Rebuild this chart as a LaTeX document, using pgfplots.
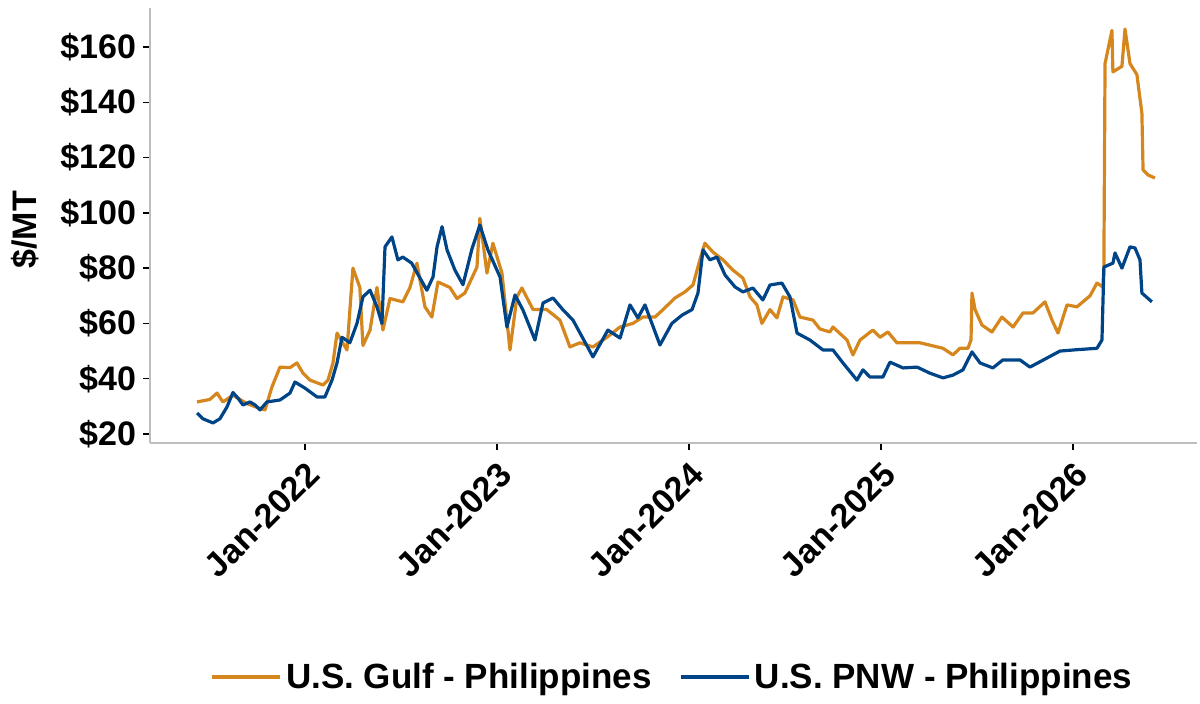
\documentclass[border=0pt]{standalone}
\usepackage{fontspec}
\setmainfont{Liberation Sans}
\usepackage{pgfplots}
\pgfplotsset{compat=1.18}

\definecolor{gulf}{RGB}{213,134,29}
\definecolor{pnw}{RGB}{0,68,136}
\definecolor{axisgray}{RGB}{190,190,190}

\begin{document}
\begin{tikzpicture}
% page frame: 1200 x 703 px at 0.5pt per px
\path (-75pt,-130pt) rectangle (525pt,221.5pt);
\begin{axis}[
  at={(0pt,0pt)}, anchor=south west,
  scale only axis,
  width=523.5pt, height=217.5pt,
  xmin=2021.193, xmax=2026.646,
  ymin=16.74, ymax=174.1,
  axis x line*=bottom, axis y line*=left,
  axis line style={axisgray, line width=0.9pt},
  tick align=outside,
  major tick length=3.5pt,
  tick style={black, line width=0.7pt},
  xtick={2022,2023,2024,2025,2026},
  xticklabels={Jan-2022,Jan-2023,Jan-2024,Jan-2025,Jan-2026},
  ytick={20,40,60,80,100,120,140,160},
  yticklabels={\$20,\$40,\$60,\$80,\$100,\$120,\$140,\$160},
  ticklabel style={font=\fontsize{17}{19}\selectfont\bfseries},
  xticklabel style={rotate=45, anchor=north east},
  ylabel={\$/MT},
  ylabel style={font=\fontsize{17}{19}\selectfont\bfseries,
    at={(axis description cs:-0.1194,0.49)}, anchor=center},
  legend columns=2,
  legend style={draw=none, fill=none,
    at={(axis description cs:0.5,-0.538)}, anchor=center,
    font=\fontsize{17.5}{19}\selectfont\bfseries,
    /tikz/every even column/.append style={column sep=12pt}},
  legend image code/.code={\draw[#1, line width=1.6pt] (0pt,0pt) -- (25pt,0pt);
    \path (25pt,0pt) -- (34pt,0pt);},
  every axis plot/.append style={line join=round},
]

\addplot[gulf, line width=1.6pt] coordinates {
(2021.438,31.6) (2021.505,32.5) (2021.542,34.8) (2021.573,31.6) (2021.625,34.0)
(2021.698,31.0) (2021.755,29.5) (2021.792,28.7) (2021.828,37.0) (2021.870,44.2)
(2021.922,44.0) (2021.958,45.7) (2021.990,42.0) (2022.026,39.5) (2022.094,37.7)
(2022.120,39.5) (2022.146,45.7) (2022.167,56.5) (2022.219,50.4) (2022.250,80.0)
(2022.286,73.0) (2022.302,52.0) (2022.339,57.6) (2022.375,73.0) (2022.406,57.6)
(2022.443,69.0) (2022.510,67.8) (2022.547,73.0) (2022.583,81.8) (2022.625,66.0)
(2022.661,62.3) (2022.693,75.0) (2022.755,73.0) (2022.792,69.0) (2022.833,71.0)
(2022.896,80.4) (2022.911,98.0) (2022.948,78.2) (2022.979,89.0) (2023.026,78.2)
(2023.068,50.4) (2023.104,69.6) (2023.130,72.8) (2023.188,65.0) (2023.260,65.0)
(2023.328,61.2) (2023.380,51.5) (2023.432,53.0) (2023.500,51.5) (2023.573,55.0)
(2023.641,58.7) (2023.708,60.0) (2023.760,62.3) (2023.823,62.3) (2023.865,65.0)
(2023.927,69.2) (2023.979,71.4) (2024.021,73.9) (2024.057,83.0) (2024.083,89.0)
(2024.125,85.8) (2024.177,83.0) (2024.229,79.3) (2024.281,76.4) (2024.318,69.6)
(2024.354,66.7) (2024.380,60.0) (2024.422,65.0) (2024.458,62.0) (2024.490,69.6)
(2024.542,68.5) (2024.578,62.3) (2024.646,61.2) (2024.682,58.0) (2024.734,56.9)
(2024.750,58.7) (2024.823,54.0) (2024.854,48.6) (2024.891,54.0) (2024.958,57.6)
(2024.995,55.0) (2025.036,56.9) (2025.083,53.0) (2025.203,53.0) (2025.323,51.0)
(2025.375,48.6) (2025.411,51.0) (2025.453,51.0) (2025.469,54.0) (2025.474,71.0)
(2025.490,65.0) (2025.526,59.4) (2025.578,56.9) (2025.630,62.3) (2025.688,58.7)
(2025.740,63.8) (2025.792,63.8) (2025.854,67.8) (2025.891,61.2) (2025.922,56.5)
(2025.969,66.7) (2026.021,66.0) (2026.089,70.0) (2026.125,74.6) (2026.156,73.2)
(2026.161,80.0) (2026.167,154.0) (2026.203,166.0) (2026.208,151.0) (2026.255,153.0)
(2026.271,166.5) (2026.297,154.0) (2026.333,150.0) (2026.359,136.0) (2026.365,115.5)
(2026.391,113.7) (2026.427,112.6)
};
\addlegendentry{U.S. Gulf - Philippines}

\addplot[pnw, line width=1.6pt] coordinates {
(2021.438,27.6) (2021.469,25.5) (2021.521,24.0) (2021.557,25.5) (2021.594,29.8)
(2021.625,35.0) (2021.651,33.0) (2021.677,30.5) (2021.714,31.6) (2021.740,30.5)
(2021.766,28.7) (2021.802,31.6) (2021.870,32.3) (2021.922,34.8) (2021.948,38.8)
(2022.000,36.6) (2022.063,33.4) (2022.104,33.4) (2022.141,39.5) (2022.167,45.7)
(2022.193,55.0) (2022.234,53.0) (2022.271,60.0) (2022.302,69.6) (2022.339,72.0)
(2022.375,66.0) (2022.401,60.0) (2022.417,87.7) (2022.453,91.3) (2022.484,83.0)
(2022.510,84.0) (2022.556,81.8) (2022.635,72.0) (2022.667,76.8) (2022.688,87.7)
(2022.714,95.0) (2022.740,86.6) (2022.781,79.3) (2022.823,74.0) (2022.870,87.0)
(2022.911,95.6) (2022.953,86.6) (2023.016,76.8) (2023.052,58.7) (2023.094,70.3)
(2023.135,64.9) (2023.198,54.0) (2023.240,67.4) (2023.292,69.2) (2023.344,64.9)
(2023.396,61.2) (2023.500,47.9) (2023.578,57.6) (2023.641,54.7) (2023.693,66.7)
(2023.734,62.0) (2023.771,66.7) (2023.807,60.0) (2023.849,52.2) (2023.911,60.0)
(2023.964,63.0) (2024.016,65.0) (2024.047,71.0) (2024.073,86.6) (2024.109,83.0)
(2024.146,84.0) (2024.188,77.5) (2024.240,73.2) (2024.281,71.4) (2024.333,72.8)
(2024.385,68.5) (2024.422,73.9) (2024.484,74.6) (2024.526,69.6) (2024.563,56.5)
(2024.630,54.0) (2024.698,50.4) (2024.750,50.4) (2024.802,45.7) (2024.875,39.5)
(2024.906,43.2) (2024.943,40.6) (2025.010,40.6) (2025.047,46.0) (2025.115,43.9)
(2025.188,44.2) (2025.255,42.0) (2025.323,40.3) (2025.375,41.3) (2025.427,43.2)
(2025.474,49.7) (2025.516,45.7) (2025.583,43.9) (2025.635,46.8) (2025.724,46.8)
(2025.776,44.2) (2025.865,47.5) (2025.932,50.0) (2026.021,50.5) (2026.125,51.0)
(2026.151,54.0) (2026.161,80.4) (2026.208,81.8) (2026.219,85.5) (2026.255,80.0)
(2026.297,87.7) (2026.323,87.3) (2026.349,83.0) (2026.359,71.0) (2026.411,67.8)
};
\addlegendentry{U.S. PNW - Philippines}

\end{axis}
\end{tikzpicture}
\end{document}
